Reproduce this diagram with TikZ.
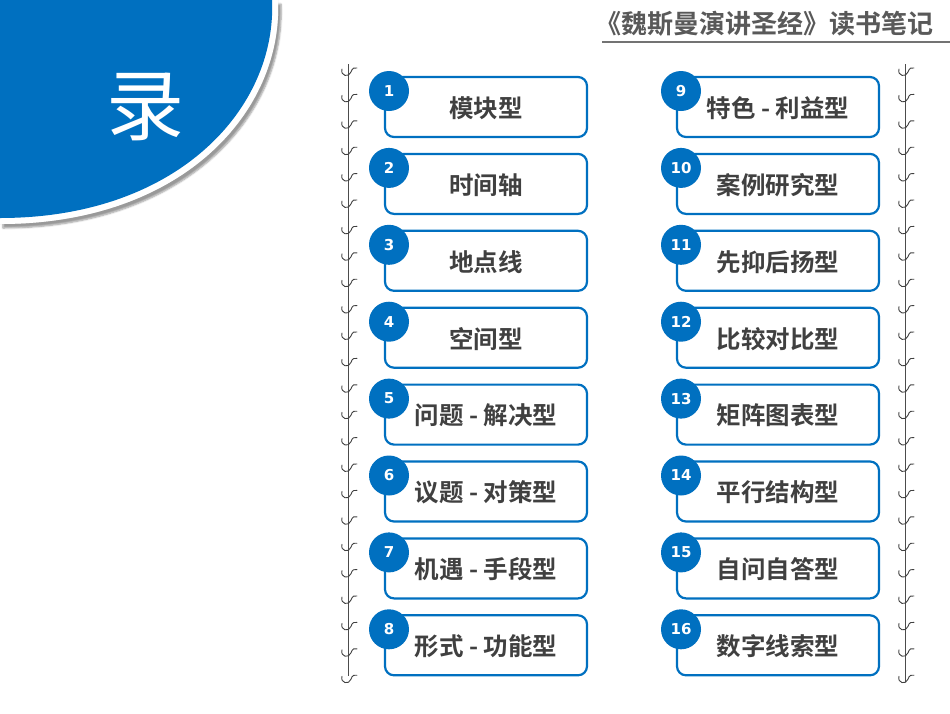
\documentclass[tikz,border=0pt]{standalone}
\usepackage{fontspec}
\newfontfamily\cjk{Noto Sans CJK SC Bold}
\newfontfamily\cjkr{Noto Sans CJK SC}
\newfontfamily\numf{DejaVu Sans Bold}
\usetikzlibrary{shadows.blur}
\definecolor{mblue}{HTML}{0070C0}
\definecolor{mgray}{HTML}{404040}
\begin{document}
\begin{tikzpicture}[x=1pt,y=-1pt,
  itembox/.style={draw=mblue,line width=2.2pt,rounded corners=9pt,fill=white,minimum width=202pt,minimum height=60pt,inner sep=0pt},
  numc/.style={circle,fill=mblue,minimum size=40pt,inner sep=0pt,text=white,font=\numf\fontsize{15}{15}\selectfont},
  itemtxt/.style={text=mgray,font=\cjk\fontsize{24.5}{24.5}\selectfont,inner sep=0pt},
  ringst/.style={line width=0.9pt,black!75,line cap=round}]
\useasboundingbox (0,0) rectangle (950,713);
% corner disc
\fill[black!20,blur shadow={shadow xshift=3pt,shadow yshift=-4pt,shadow blur steps=6}] (0,0) -- (278,0) .. controls (283,112) and (182,224) .. (0,224) -- cycle;
\fill[white] (0,0) -- (278,0) .. controls (283,112) and (182,224) .. (0,224) -- cycle;
\fill[mblue] (0,0) -- (272,0) .. controls (277,108) and (178,218) .. (0,218) -- cycle;
\node[text=white,font=\cjkr\fontsize{78}{78}\selectfont] (lu) at (145,107) {录};
% header
\node[text=black!65,font=\cjk\fontsize{26}{26}\selectfont,anchor=east] (hd) at (937,24) {《魏斯曼演讲圣经》读书笔记};
\draw[black!55,line width=1.5pt] (602,42) -- (950,42);
% spines
\draw[black!70,line width=0.9pt] (348,64) -- (348,676);
\draw[black!70,line width=0.9pt] (905,64) -- (905,682);
\foreach \i in {0,...,23}{
  \pgfmathsetmacro\yy{72+\i*26.4}
  \draw[ringst] (342,\yy-3) .. controls (340,\yy+4) and (349,\yy+6) .. (351,\yy) .. controls (352,\yy-4) and (355,\yy-5) .. (357,\yy-4);
  \draw[ringst] (899,\yy-3) .. controls (897,\yy+4) and (906,\yy+6) .. (908,\yy) .. controls (909,\yy-4) and (912,\yy-5) .. (914,\yy-4);
}
% items
\foreach \n/\t [count=\k from 0] in {1/模块型,2/时间轴,3/地点线,4/空间型,5/问题 - 解决型,6/议题 - 对策型,7/机遇 - 手段型,8/形式 - 功能型}{
  \pgfmathsetmacro\yy{107+\k*76.9}
  \node[itembox] (b\n) at (486,\yy) {};
  \node[numc] (c\n) at (389,\yy-16) {\n};
  \node[itemtxt] (t\n) at (486,\yy+1) {\t};
}
\foreach \n/\t [count=\k from 0] in {9/特色 - 利益型,10/案例研究型,11/先抑后扬型,12/比较对比型,13/矩阵图表型,14/平行结构型,15/自问自答型,16/数字线索型}{
  \pgfmathsetmacro\yy{107+\k*76.9}
  \node[itembox] (b\n) at (778,\yy) {};
  \node[numc] (c\n) at (681,\yy-16) {\n};
  \node[itemtxt] (t\n) at (778,\yy+1) {\t};
}
\end{tikzpicture}
\end{document}
